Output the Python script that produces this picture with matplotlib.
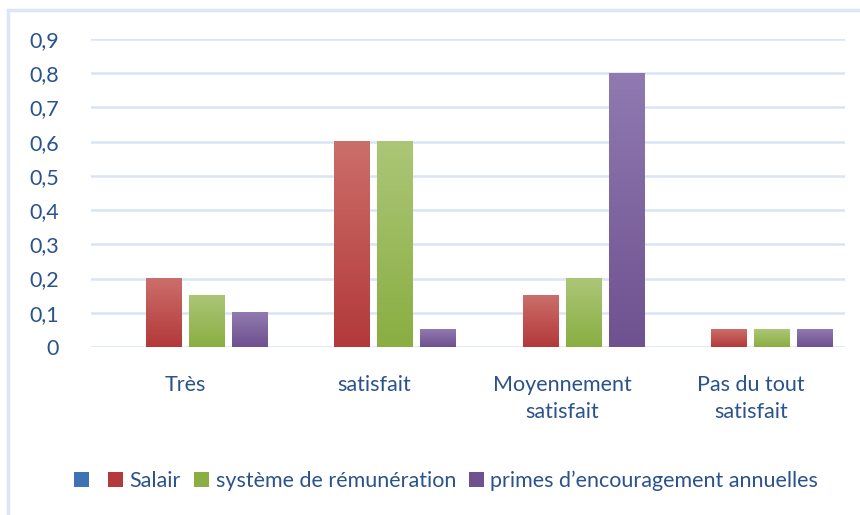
import numpy as np
import matplotlib
matplotlib.use("Agg")
import matplotlib.pyplot as plt
from matplotlib.patches import Patch, Rectangle
from matplotlib.colors import LinearSegmentedColormap

plt.rcParams["font.family"] = ["Lato", "DejaVu Sans"]

# ── data ──
categories = ["Très", "satisfait", "Moyennement\nsatisfait", "Pas du tout\nsatisfait"]
series_names = ["", "Salair", "système de rémunération", "primes d\u2019encouragement annuelles"]
blue_vals = [0, 0, 0, 0]
salair = [0.2, 0.6, 0.15, 0.05]
remuneration = [0.15, 0.6, 0.2, 0.05]
primes = [0.1, 0.05, 0.8, 0.05]
y_ticks = [0, 0.1, 0.2, 0.3, 0.4, 0.5, 0.6, 0.7, 0.8, 0.9]

# (top colour, bottom colour) for the Excel-like gradient fill
grads = [
    ("#6A95CC", "#3F72B5"),
    ("#CB6E6A", "#B3393A"),
    ("#ABC677", "#8AAE42"),
    ("#907AB0", "#6F5190"),
]
text_col = "#2A528C"
grid_col = "#D9E4F4"
fs = 15.5

fig = plt.figure(figsize=(8.6, 5.15), dpi=100)
ax = fig.add_axes([91 / 860, 1 - 347 / 515, (845 - 91) / 860, (347 - 39) / 515])

# chart border (light blue frame, cut at right / bottom like the screenshot)
fig.patches.append(Rectangle((8 / 860, -0.05), 1.1, 1 - 10 / 515 + 0.05,
                             transform=fig.transFigure, fill=False,
                             edgecolor="#DCE6F4", linewidth=2.5, zorder=0))

x = np.arange(len(categories))
pitch = 43 / 188.5
width = 36 / 188.5
all_series = [blue_vals, salair, remuneration, primes]

for i, vals in enumerate(all_series):
    offs = (i - 1.5) * pitch
    top, bot = grads[i]
    cmap = LinearSegmentedColormap.from_list(f"g{i}", [bot, top])
    bars = ax.bar(x + offs, vals, width, color=top, zorder=2, linewidth=0)
    for b in bars:
        h = b.get_height()
        if h <= 0:
            continue
        grad = np.linspace(0, 1, 100).reshape(-1, 1)
        x0 = b.get_x()
        ax.imshow(grad, cmap=cmap, origin="lower", aspect="auto",
                  extent=(x0, x0 + width, 0, h), zorder=3)

ax.set_xlim(-0.5, len(categories) - 0.5)
ax.set_ylim(0, 0.9)
ax.set_yticks(y_ticks)
ax.set_yticklabels([("%.1f" % v).replace(".", ",") if v else "0" for v in y_ticks])
ax.set_xticks(x)
ax.set_xticklabels(categories, linespacing=1.45)
ax.tick_params(axis="both", length=0, labelsize=fs, colors=text_col)
ax.tick_params(axis="y", pad=23)
ax.tick_params(axis="x", pad=20)
for lab in ax.get_yticklabels():
    lab.set_horizontalalignment("right")

ax.grid(axis="y", color=grid_col, linewidth=1.8, zorder=1)
ax.set_axisbelow(True)
for s in ax.spines.values():
    s.set_visible(False)

handles = [Patch(facecolor=grads[i][1], edgecolor="none") for i in range(4)]
fig.legend(handles, series_names, loc="center", bbox_to_anchor=(446 / 860, 1 - 481 / 515),
           ncol=4, frameon=False, fontsize=fs, handlelength=0.7, handleheight=0.7,
           handletextpad=0.3, columnspacing=0.6, labelcolor=text_col)

fig.savefig("out.png", dpi=100)
